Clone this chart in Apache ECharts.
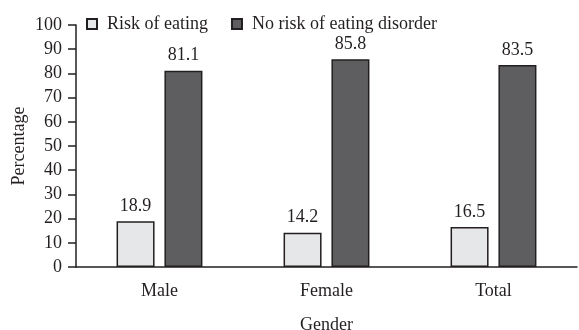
<!DOCTYPE html>
<html>
<head>
<meta charset="utf-8">
<script src="https://cdn.jsdelivr.net/npm/echarts@6/dist/echarts.min.js"></script>
<style>
  html, body { margin: 0; padding: 0; background: #fff; }
  #chart { width: 579px; height: 330px; }
</style>
</head>
<body>
<div id="chart"></div>
<script>
var categories = ['Male', 'Female', 'Total'];
var riskValues = [18.9, 14.2, 16.5];
var noRiskValues = [81.1, 85.8, 83.5];
var seriesNames = ['Risk of eating', 'No risk of eating disorder'];

var font = '"Liberation Serif", "DejaVu Serif", serif';
var ink = '#231f20';
var fs = 18;

var chart = echarts.init(document.getElementById('chart'));
chart.setOption({
    animation: false,
    textStyle: { fontFamily: font, color: ink },
    legend: {
        left: 81, top: 10,
        itemWidth: 10, itemHeight: 10, itemGap: 23,
        icon: 'rect',
        textStyle: { fontFamily: font, fontSize: fs, color: ink, padding: [0, 0, 0, 5] },
        data: seriesNames
    },
    grid: { left: 76, top: 25, right: 2, bottom: 63, outerBoundsMode: 'none' },
    xAxis: {
        type: 'category',
        data: categories,
        name: 'Gender',
        nameLocation: 'middle',
        nameGap: 49,
        nameMoveOverlap: false,
        nameTextStyle: { fontFamily: font, fontSize: fs, color: ink },
        axisLine: { lineStyle: { color: ink, width: 1.5 } },
        axisTick: { length: 8, lineStyle: { color: ink, width: 1.5 } },
        axisLabel: { fontFamily: font, fontSize: fs, color: ink, margin: 15 }
    },
    yAxis: {
        type: 'value',
        min: 0, max: 100, interval: 10,
        name: 'Percentage',
        nameLocation: 'middle',
        nameGap: 48,
        nameMoveOverlap: false,
        nameTextStyle: { fontFamily: font, fontSize: fs, color: ink },
        splitLine: { show: false },
        axisLine: { show: true, lineStyle: { color: ink, width: 1.5 } },
        axisTick: { show: true, length: 8, lineStyle: { color: ink, width: 1.5 } },
        axisLabel: { fontFamily: font, fontSize: fs, color: ink, margin: 14 }
    },
    series: [
        {
            name: seriesNames[0],
            type: 'bar',
            data: riskValues,
            barWidth: 38,
            barGap: '26%',
            itemStyle: { color: '#e6e7e8', borderColor: ink, borderWidth: 1.5 },
            label: { show: true, position: 'top', distance: 6, fontFamily: font, fontSize: fs, color: ink }
        },
        {
            name: seriesNames[1],
            type: 'bar',
            data: noRiskValues,
            barWidth: 38,
            itemStyle: { color: '#5e5e60', borderColor: ink, borderWidth: 1.5 },
            label: { show: true, position: 'top', distance: 6, fontFamily: font, fontSize: fs, color: ink }
        }
    ]
});
</script>
</body>
</html>
